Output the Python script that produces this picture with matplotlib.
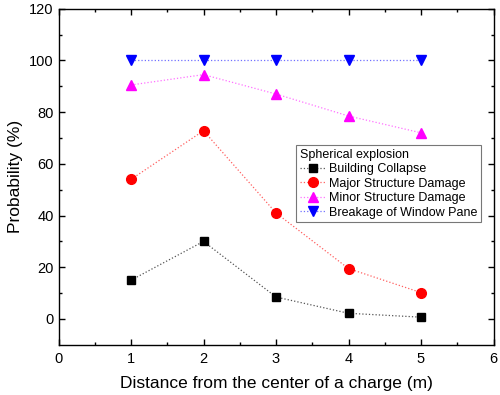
import numpy as np
import matplotlib
matplotlib.use("Agg")
import matplotlib.pyplot as plt

plt.rcParams['font.family'] = ['Liberation Sans', 'DejaVu Sans']

# distance from the center of the charge (m)
distance = [1, 2, 3, 4, 5]

# probability (%) for each damage level
building_collapse = [15, 30, 8.5, 2.2, 0.7]
major_damage = [54, 72.8, 41, 19.5, 10.2]
minor_damage = [90.5, 94.5, 87, 78.5, 72]
window_pane = [100, 100, 100, 100, 100]

labels = ["Building Collapse", "Major Structure Damage",
          "Minor Structure Damage", "Breakage of Window Pane"]

fig = plt.figure(figsize=(5, 3.95), dpi=100)
ax = fig.add_axes([0.117, 0.127, 0.870, 0.851])

ax.plot(distance, building_collapse, ls=":", color="#555555", lw=0.9,
        marker="s", ms=6, mfc="black", mec="black", label=labels[0])
ax.plot(distance, major_damage, ls=":", color="#ff6060", lw=0.9,
        marker="o", ms=7, mfc="red", mec="red", label=labels[1])
ax.plot(distance, minor_damage, ls=":", color="#ff70ff", lw=0.9,
        marker="^", ms=7.5, mfc="magenta", mec="magenta", label=labels[2])
ax.plot(distance, window_pane, ls=":", color="#7070ff", lw=0.9,
        marker="v", ms=7.5, mfc="blue", mec="blue", label=labels[3])

ax.set_xlim(0, 6)
ax.set_ylim(-10, 120)
ax.set_xticks(np.arange(0, 7, 1))
ax.set_xticks(np.arange(0.5, 6, 1), minor=True)
ax.set_yticks(np.arange(0, 121, 20))
ax.set_yticks(np.arange(10, 120, 20), minor=True)
ax.tick_params(which="both", direction="in", top=True, right=True,
               labelsize=10.5, width=1)
ax.tick_params(which="major", length=4.5)
ax.tick_params(which="minor", length=2.5)
ax.tick_params(axis="x", pad=5)
for s in ax.spines.values():
    s.set_linewidth(1)

ax.set_xlabel("Distance from the center of a charge (m)", fontsize=12.5, labelpad=7)
ax.set_ylabel("Probability (%)", fontsize=12.5, labelpad=4)

leg = ax.legend(title="Spherical explosion", loc="upper left",
                bbox_to_anchor=(0.547, 0.595), fontsize=9, title_fontsize=9,
                frameon=True, fancybox=False, edgecolor="#555555",
                borderpad=0.3, labelspacing=0.2, handlelength=2.0,
                handletextpad=0.3, borderaxespad=0)
leg._legend_box.align = "left"
leg.get_frame().set_linewidth(0.8)

fig.savefig("out.png", dpi=100)
